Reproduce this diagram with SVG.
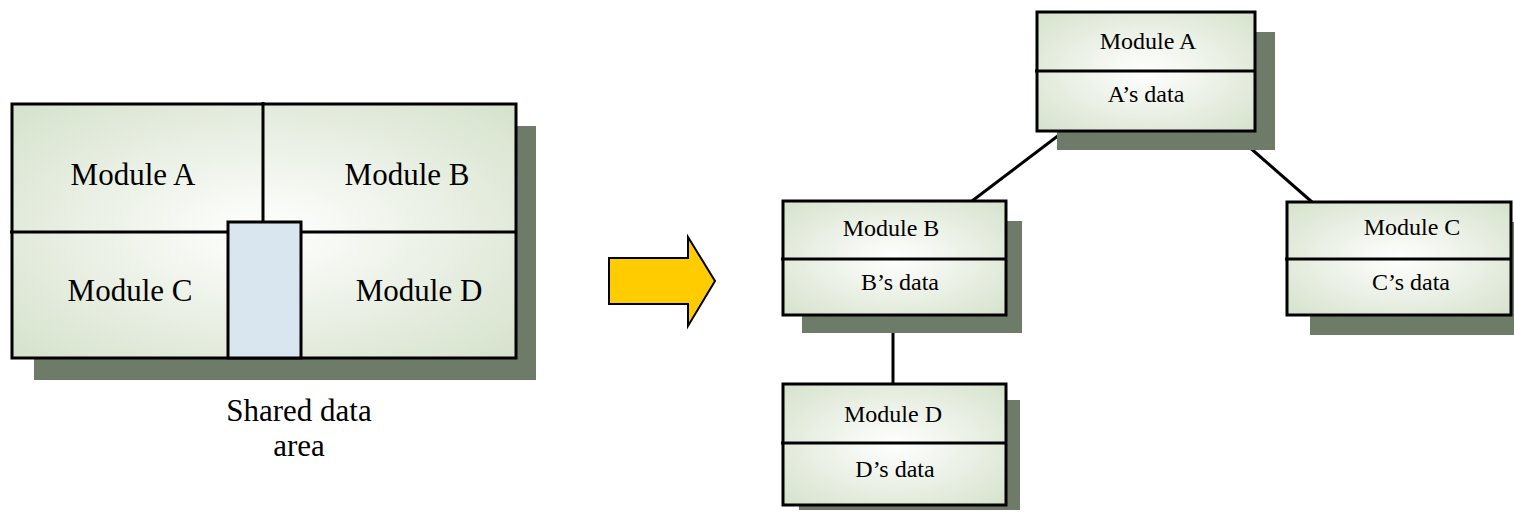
<svg xmlns="http://www.w3.org/2000/svg" width="1514" height="513" viewBox="0 0 1514 513">
<defs>
<radialGradient id="g" cx="0.5" cy="0.5" r="0.7">
<stop offset="0" stop-color="#ffffff"/>
<stop offset="1" stop-color="#d6e2cc"/>
</radialGradient>
<style>
.sh{fill:#6e7b69}
.bx{fill:url(#g);stroke:#000;stroke-width:3}
.ln{stroke:#000;stroke-width:3;fill:none}
text{font-family:"Liberation Serif","Times New Roman","DejaVu Serif",serif;fill:#000;text-anchor:middle}
.big{font-size:31px}
.sm{font-size:24px}
</style>
</defs>
<g id="shared-memory">
<rect class="sh" x="34" y="126" width="502" height="254"/>
<rect class="bx" x="12" y="104" width="504" height="254"/>
<line class="ln" x1="10" y1="232" x2="516" y2="232"/>
<line class="ln" x1="263" y1="102" x2="263" y2="222"/>
<rect x="228" y="222" width="73" height="136" fill="#d9e6f0" stroke="#000" stroke-width="3"/>
<text class="big" x="133" y="185">Module A</text>
<text class="big" x="407" y="185">Module B</text>
<text class="big" x="130" y="301">Module C</text>
<text class="big" x="419" y="301">Module D</text>
<text class="big" x="299" y="421">Shared data</text>
<text class="big" x="299" y="456">area</text>
</g>
<g id="arrow">
<polygon points="609,258 688,258 688,237 715,281 688,326 688,304 609,304" fill="#ffcc00" stroke="#000" stroke-width="2"/>
</g>
<g id="connectors">
<line class="ln" x1="1063" y1="132" x2="972" y2="201"/>
<line class="ln" x1="1232" y1="132" x2="1312" y2="202"/>
<line class="ln" x1="893" y1="315" x2="893" y2="384"/>
</g>
<g id="node-a">
<rect class="sh" x="1057" y="32" width="218" height="118"/>
<rect class="bx" x="1037" y="12" width="218" height="119"/>
<line class="ln" x1="1035" y1="71" x2="1255" y2="71"/>
<text class="sm" x="1148" y="49">Module A</text>
<text class="sm" x="1146" y="102">A’s data</text>
</g>
<g id="node-b">
<rect class="sh" x="802" y="221" width="220" height="112"/>
<rect class="bx" x="783" y="201" width="223" height="114"/>
<line class="ln" x1="781" y1="259" x2="1006" y2="259"/>
<text class="sm" x="891" y="236">Module B</text>
<text class="sm" x="900" y="290">B’s data</text>
</g>
<g id="node-c">
<rect class="sh" x="1310" y="222" width="204" height="113"/>
<rect class="bx" x="1287" y="202" width="224" height="113"/>
<line class="ln" x1="1285" y1="259" x2="1511" y2="259"/>
<text class="sm" x="1412" y="235">Module C</text>
<text class="sm" x="1411" y="290">C’s data</text>
</g>
<g id="node-d">
<rect class="sh" x="799" y="400" width="221" height="110"/>
<rect class="bx" x="783" y="384" width="223" height="121"/>
<line class="ln" x1="781" y1="443" x2="1006" y2="443"/>
<text class="sm" x="893" y="422">Module D</text>
<text class="sm" x="895" y="477">D’s data</text>
</g>
</svg>
